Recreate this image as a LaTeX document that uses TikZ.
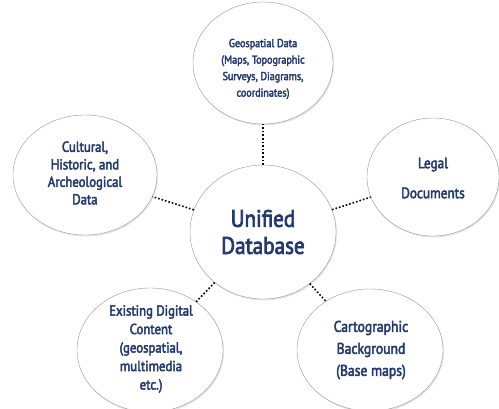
\documentclass[tikz,border=0pt]{standalone}
\usepackage{fontspec}
\setmainfont{PT Sans}[FakeBold = 3, FakeStretch = 0.88]
\usetikzlibrary{shapes.geometric, shadows}
\definecolor{hubblue}{RGB}{36,58,108}
\definecolor{rimgray}{RGB}{150,150,150}

\begin{document}
\begin{tikzpicture} [%
    x = 1pt, y = -1pt,
    topic/.style = {%
      ellipse, draw = rimgray, fill = white,
      inner sep = 0pt,
      drop shadow = {shadow xshift = 1pt, shadow yshift = -1.5pt,
                     opacity = .2}},
    caption/.style = {%
      text = hubblue, align = center, inner sep = 0pt},
    link/.style = {black, line width = 1.6pt, dotted}
  ]

\useasboundingbox (0,0) rectangle (499,408);

\node[topic, minimum width = 146pt, minimum height = 134pt] (hub)     at (263,232) {};
\node[topic, minimum width = 140pt, minimum height = 122pt] (geo)     at (263,63)  {};
\node[topic, minimum width = 144pt, minimum height = 120pt] (cult)    at (85,175)  {};
\node[topic, minimum width = 132pt, minimum height = 118pt] (legal)   at (433,177) {};
\node[topic, minimum width = 146pt, minimum height = 124pt] (digital) at (150,350) {};
\node[topic, minimum width = 146pt, minimum height = 122pt] (carto)   at (370,350) {};

\node[caption, font = \fontsize{24}{27}\selectfont] (hub-txt) at (263,232)
  {Unified\\Database};
\node[caption, font = \fontsize{11.5}{16.5}\selectfont] (geo-txt) at (263,69)
  {Geospatial Data\\(Maps, Topographic\\Surveys, Diagrams,\\coordinates)};
\node[caption, font = \fontsize{14.5}{17.5}\selectfont] (cult-txt) at (85,173)
  {Cultural,\\Historic, and\\Archeological\\Data};
\node[caption, font = \fontsize{15}{30}\selectfont] (legal-txt) at (433,178)
  {Legal\\Documents};
\node[caption, font = \fontsize{14.5}{18.5}\selectfont] (digital-txt) at (151,349)
  {Existing Digital\\Content\\(geospatial,\\multimedia\\etc.)};
\node[caption, font = \fontsize{15.5}{22}\selectfont] (carto-txt) at (371,350)
  {Cartographic\\Background\\(Base maps)};

\path[link]
(hub) edge (geo)
      edge (cult)
      edge (legal)
      edge (digital)
      edge (carto);

\end{tikzpicture}
\end{document}
